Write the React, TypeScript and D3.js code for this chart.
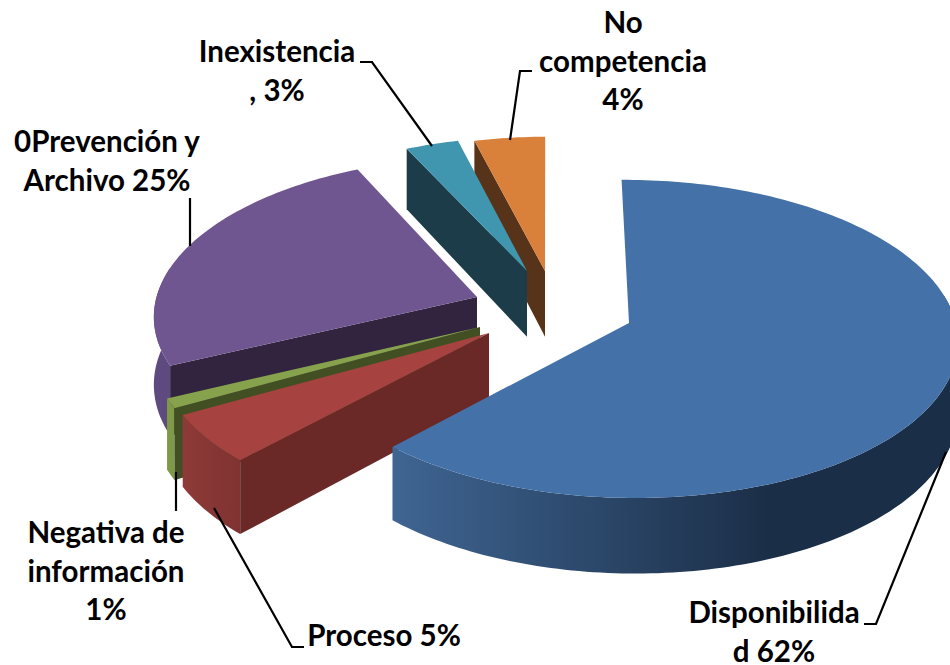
import React from "react";
import * as d3 from "d3";

const categories = ["Disponibilidad", "Proceso", "Negativa de información", "Prevención y Archivo", "Inexistencia", "No competencia"];
const values = [62.1, 5, 1, 24.9, 3, 4];
const topColors = ["#4472a8", "#a64340", "#87a24c", "#705690", "#4096ae", "#d9803a"];
const cutColors = ["#1b2e47", "#6a2827", "#424f22", "#32233f", "#1b3c48", "#57331a"];
const wallStart = ["#3f6592", "#8e3a38", "#7f9a47", "#5f4a80", "#1b3c48", "#57331a"];
const wallEnd = ["#1b2e47", "#7f3331", "#7f9a47", "#5f4a80", "#1b3c48", "#57331a"];
// Screen position of each slice's apex (the explosion of the pie)
const apexes: [number, number][] = [[629, 323], [489, 333], [480, 327], [477, 297], [527, 271], [545, 271]];
const stretchU = [1.015, 1.012, 1.012, 1.012, 1, 1];
const stretchV = [1, 1.012, 1.012, 1.012, 1, 1];
const drawOrder = [5, 4, 3, 2, 1, 0];

const labels = [
  { x: 623, lines: ["No", "competencia", "4%"], y: 33 },
  { x: 277, lines: ["Inexistencia", ", 3%"], y: 62 },
  { x: 107, lines: ["0Prevención y", "Archivo 25%"], y: 152 },
  { x: 106, lines: ["Negativa de", "información", "1%"], y: 543 },
  { x: 384, lines: ["Proceso 5%"], y: 646 },
  { x: 774, lines: ["Disponibilida", "d 62%"], y: 623 },
];
const leaders: [number, number][][] = [
  [[360, 62], [372, 62], [432, 146]],
  [[532, 71], [520, 71], [510, 140]],
  [[190, 198], [190, 246]],
  [[176, 472], [176, 511]],
  [[214, 508], [292, 647], [304, 647]],
  [[946, 452], [876, 624], [864, 624]],
];

const W = 950, H = 665;
const CX = 628, CY = 323, RX = 322, RY = 157.5, PERSP = 0.1, DEPTH = 68, VPX = 570;
const START = (-0.4 * Math.PI) / 180;

const project = (U: number, V: number, drop = 0): [number, number] => {
  const f = 1 / (1 - PERSP * V);
  return [CX + RX * U * f + (CX - VPX) * (f - 1), CY + RY * V * f + drop * f];
};
const unproject = (x: number, y: number) => {
  const a = (y - CY) / RY;
  const V = a / (1 + PERSP * a);
  const f = 1 / (1 - PERSP * V);
  return { U: (x - CX - (CX - VPX) * (f - 1)) / (RX * f), V };
};

const pie = d3.pie<number>().sort(null).startAngle(START).endAngle(START + 2 * Math.PI);
const arcs = pie(values);
const line = d3.line<[number, number]>().x((d) => d[0]).y((d) => d[1]);
const plain = d3.line<[number, number]>();

export default function App() {
  const slices = arcs.map((a, i) => {
    const o = unproject(apexes[i][0], apexes[i][1]);
    const at = (t: number, r = 1, drop = 0) =>
      project(o.U + r * stretchU[i] * Math.sin(t), o.V - r * stretchV[i] * Math.cos(t), drop);
    const n = Math.max(4, Math.ceil((a.endAngle - a.startAngle) / 0.02));
    const ts = d3.range(n + 1).map((k) => a.startAngle + ((a.endAngle - a.startAngle) * k) / n);
    const rimTop = ts.map((t) => at(t));
    // only the part of the rim that faces the viewer has a visible outer wall
    const front = ts.filter((t) => Math.cos(t) < 0.2);
    const wall = front.length
      ? line([...front.map((t) => at(t)), ...front.map((t) => at(t, 1, DEPTH)).reverse()]) + "Z"
      : null;
    const top = line([at(0, 0), ...rimTop]) + "Z";
    const cut = (t: number) => line([at(0, 0), at(t), at(t, 1, DEPTH), at(0, 0, DEPTH)]) + "Z";
    const startVisible = Math.sin(a.startAngle) < -0.05;
    const endVisible = Math.sin(a.endAngle) > 0.05;
    const xs = rimTop.map((p) => p[0]);
    return { i, top, wall, cutS: startVisible ? cut(a.startAngle) : null, cutE: endVisible ? cut(a.endAngle) : null, x0: d3.min(xs)!, x1: d3.max(xs)! };
  });

  return (
    <svg width={W} height={H} viewBox={`0 0 ${W} ${H}`} style={{ position: "absolute", left: 0, top: 0, display: "block", background: "#fff" }}>
      <title>{categories.join(", ")}</title>
      <defs>
        {slices.map((s) => (
          <linearGradient key={s.i} id={`wall${s.i}`} gradientUnits="userSpaceOnUse" x1={s.x0} x2={s.i === 0 ? 770 : s.x1} y1={0} y2={0}>
            <stop offset="0" stopColor={wallStart[s.i]} />
            <stop offset="1" stopColor={wallEnd[s.i]} />
          </linearGradient>
        ))}
      </defs>
      {drawOrder.map((i) => {
        const s = slices[i];
        return (
          <g key={i}>
            {s.wall && <path d={s.wall} fill={`url(#wall${i})`} />}
            {s.cutS && <path d={s.cutS} fill={cutColors[i]} />}
            {s.cutE && <path d={s.cutE} fill={cutColors[i]} />}
            <path d={s.top} fill={topColors[i]} />
          </g>
        );
      })}
      {leaders.map((l, i) => (
        <path key={i} d={plain(l) ?? ""} fill="none" stroke="#000" strokeWidth={2.2} />
      ))}
      {labels.map((l, i) => (
        <text key={i} x={l.x} y={l.y} textAnchor="middle" fontFamily="Lato, 'Open Sans', sans-serif" fontWeight={700} fontSize={29.5} fill="#000">
          {l.lines.map((t, k) => (
            <tspan key={k} x={l.x} dy={k === 0 ? 0 : 38.5}>{t}</tspan>
          ))}
        </text>
      ))}
    </svg>
  );
}
